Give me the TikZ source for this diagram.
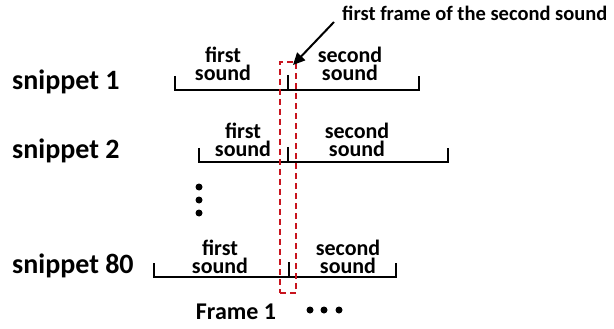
\documentclass[tikz,border=0pt]{standalone}
\usepackage{fontspec}
\setmainfont{Carlito}
\usetikzlibrary{arrows.meta}
\definecolor{framered}{RGB}{200,20,30}
\begin{document}
\begin{tikzpicture}[x=1pt,y=-1pt,
  snip/.style={font=\fontsize{28}{30}\selectfont\bfseries, anchor=base west, inner sep=0pt},
  snd/.style={font=\fontsize{22}{18}\selectfont\bfseries, align=center, anchor=base, inner sep=0pt},
  brk/.style={line width=2.2pt, line cap=butt},
  dotmark/.style={circle, fill=black, inner sep=0pt, minimum size=7pt},
  frm/.style={draw=framered, dashed, dash pattern=on 6pt off 4pt, line width=2pt, minimum width=16pt, minimum height=231pt, inner sep=0pt}
]
\useasboundingbox (0,0) rectangle (614,329);

% labels
\node[snip] (s1) at (12,90) {snippet 1};
\node[snip] (s2) at (12,158) {snippet 2};
\node[snip] (s80) at (12,273) {snippet 80};

% row 1
\draw[brk] (175,76) -- (175,90) -- (419,90) -- (419,76);
\draw[brk] (288,75) -- (288,90);
\node[snd] (f1) at (223,81) {first\\sound};
\node[snd] (c1) at (350,81) {second\\sound};

% row 2
\draw[brk] (199,148) -- (199,162) -- (448,162) -- (448,148);
\draw[brk] (288,147) -- (288,162);
\node[snd] (f2) at (243,157) {first\\sound};
\node[snd] (c2) at (357,157) {second\\sound};

% row 3
\draw[brk] (154,263) -- (154,277) -- (396,277) -- (396,263);
\draw[brk] (289,262) -- (289,277);
\node[snd] (f3) at (220,273) {first\\sound};
\node[snd] (c3) at (348,273) {second\\sound};

% vertical dots
\node[dotmark] (v1) at (199,187) {};
\node[dotmark] (v2) at (199,200) {};
\node[dotmark] (v3) at (199,213) {};

% frame
\node[frm] (fr) at (288,177.5) {};

% bottom
\node[font=\fontsize{24}{26}\selectfont\bfseries, inner sep=0pt] (fl) at (236,312) {Frame 1};
\node[dotmark] (h1) at (310,310) {};
\node[dotmark] (h2) at (324,310) {};
\node[dotmark] (h3) at (339,310) {};

% annotation
\node[font=\fontsize{20.5}{22}\selectfont\bfseries, anchor=west, inner sep=0pt] (ann) at (342,13) {first frame of the second sound};
\coordinate (as) at (334,22);
\draw[line width=2pt, -{Triangle[length=12pt,width=11pt]}] (as) -- ([xshift=5pt,yshift=-4pt]fr.north);
\end{tikzpicture}
\end{document}
